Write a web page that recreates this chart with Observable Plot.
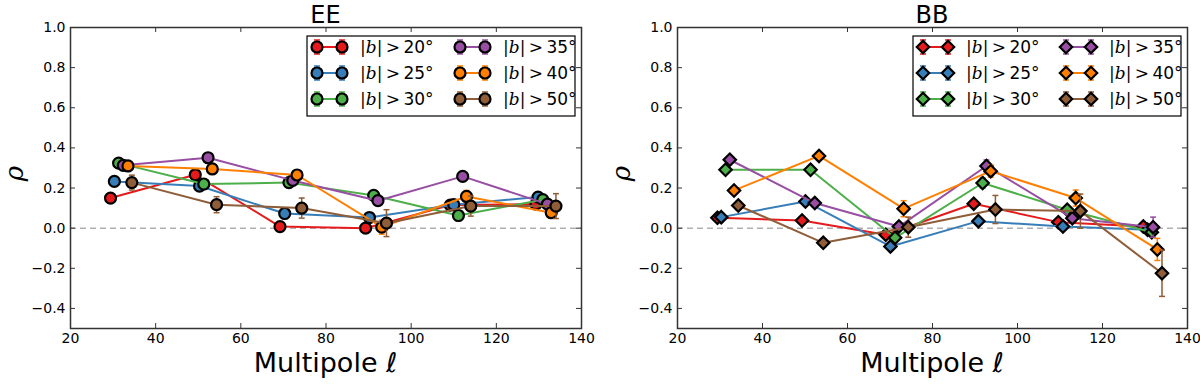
<!DOCTYPE html>
<html><head><meta charset="utf-8">
<script src="https://cdn.jsdelivr.net/npm/d3@7"></script>
<script src="https://cdn.jsdelivr.net/npm/@observablehq/plot@0.6"></script>
<style>
body{margin:0;background:#fff;}
#wrap{display:flex;width:1200px;height:384px;overflow:hidden;}
#wrap svg{display:block;}
</style></head><body><div id="wrap"></div>
<script>
const cuts = ["20", "25", "30", "35", "40", "50"];
const colors = ["#e41a1c", "#377eb8", "#4daf4a", "#984ea3", "#ff7f00", "#8f5d38"];
const xTicks = [20, 40, 60, 80, 100, 120, 140];
const yTicks = [-0.4, -0.2, 0.0, 0.2, 0.4, 0.6, 0.8, 1.0];

// EE panel
const eeEll = [
  [29.4, 49.3, 69.2, 89.3, 109.2, 129.3],
  [30.3, 50.3, 70.3, 90.2, 110.0, 129.8],
  [31.3, 51.3, 71.3, 91.2, 111.1, 130.9],
  [32.4, 52.3, 72.2, 92.2, 112.1, 132.0],
  [33.5, 53.3, 73.2, 93.1, 113.0, 132.9],
  [34.4, 54.3, 74.3, 94.2, 114.0, 134.0]];
const eeRho = [
  [0.150, 0.266, 0.008, 0.000, 0.115, 0.120],
  [0.233, 0.210, 0.073, 0.053, 0.117, 0.155],
  [0.324, 0.220, 0.227, 0.163, 0.063, 0.142],
  [0.313, 0.351, 0.238, 0.137, 0.258, 0.120],
  [0.310, 0.295, 0.265, 0.005, 0.158, 0.077],
  [0.227, 0.117, 0.100, 0.025, 0.110, 0.110]];
const eeErr = [
  [0.012, 0.015, 0.012, 0.012, 0.015, 0.015],
  [0.012, 0.015, 0.015, 0.015, 0.015, 0.015],
  [0.012, 0.015, 0.015, 0.015, 0.025, 0.015],
  [0.012, 0.015, 0.015, 0.015, 0.015, 0.015],
  [0.015, 0.025, 0.025, 0.035, 0.030, 0.025],
  [0.037, 0.040, 0.050, 0.067, 0.050, 0.062]];

// BB panel
const bbEll = [
  [29.4, 49.3, 69.0, 89.7, 109.6, 129.6],
  [30.3, 50.1, 70.1, 90.8, 110.7, 130.6],
  [31.3, 51.3, 71.2, 91.8, 111.7, 131.6],
  [32.3, 52.3, 72.1, 92.7, 112.9, 131.9],
  [33.3, 53.3, 73.2, 93.7, 113.7, 132.9],
  [34.3, 54.3, 74.3, 94.8, 114.8, 134.0]];
const bbRho = [
  [0.052, 0.038, -0.033, 0.122, 0.030, 0.008],
  [0.055, 0.133, -0.091, 0.035, 0.008, -0.008],
  [0.291, 0.291, -0.048, 0.225, 0.092, -0.020],
  [0.341, 0.125, 0.008, 0.310, 0.050, 0.005],
  [0.188, 0.360, 0.097, 0.284, 0.150, -0.106],
  [0.113, -0.073, 0.005, 0.093, 0.085, -0.225]];
const bbErr = [
  [0.012, 0.015, 0.015, 0.015, 0.015, 0.015],
  [0.012, 0.015, 0.015, 0.015, 0.015, 0.015],
  [0.012, 0.015, 0.015, 0.025, 0.015, 0.015],
  [0.012, 0.015, 0.015, 0.030, 0.020, 0.050],
  [0.015, 0.015, 0.040, 0.030, 0.040, 0.055],
  [0.020, 0.020, 0.050, 0.070, 0.085, 0.115]];

const SANS = "'DejaVu Sans', sans-serif";
const SERIF = "'DejaVu Serif', serif";

function makePanel({title, ell, rho, err, symbol, r, ml, mr}) {
  const W = 600, H = 384, mt = 27, mb = 56;
  const fw = W - ml - mr, fh = H - mt - mb;
  const cap = 0.7;
  const marks = [
    Plot.ruleY([0], {stroke: "#b0b0b0", strokeWidth: 1.5, strokeDasharray: "6,4"})
  ];
  for (let s = 0; s < 6; s++) {
    const rows = ell[s].map((l, i) => ({l, r: rho[s][i], e: err[s][i]}));
    const c = colors[s];
    marks.push(
      Plot.line(rows, {x: "l", y: "r", stroke: c, strokeWidth: 2}),
      Plot.ruleX(rows, {x: "l", y1: d => d.r - d.e, y2: d => d.r + d.e, stroke: c, strokeWidth: 1.5}),
      Plot.link(rows, {x1: d => d.l - cap, x2: d => d.l + cap, y1: d => d.r + d.e, y2: d => d.r + d.e, stroke: c, strokeWidth: 1.5}),
      Plot.link(rows, {x1: d => d.l - cap, x2: d => d.l + cap, y1: d => d.r - d.e, y2: d => d.r - d.e, stroke: c, strokeWidth: 1.5}),
      Plot.dot(rows, {x: "l", y: "r", fill: c, stroke: "#000", strokeWidth: 2.2, r, symbol})
    );
  }
  marks.push(
    Plot.tickX(xTicks, {x: d => d, stroke: "#333", strokeWidth: 1, insetTop: fh - 5}),
    Plot.tickX(xTicks, {x: d => d, stroke: "#333", strokeWidth: 1, insetBottom: fh - 5}),
    Plot.tickY(yTicks, {y: d => d, stroke: "#333", strokeWidth: 1, insetRight: fw - 5}),
    Plot.tickY(yTicks, {y: d => d, stroke: "#333", strokeWidth: 1, insetLeft: fw - 5}),
    Plot.frame({stroke: "#333", strokeWidth: 1.5}),
    Plot.axisX({ticks: xTicks, tickSize: 0, tickPadding: 5, fontSize: 14, label: null, tickFormat: d => String(d)}),
    Plot.axisY({ticks: yTicks, tickSize: 0, tickPadding: 5, fontSize: 14, label: null, tickFormat: d3.format(".1f")})
  );
  const svg = Plot.plot({
    width: W, height: H, marginLeft: ml, marginRight: mr, marginTop: mt, marginBottom: mb,
    x: {domain: [20, 140]}, y: {domain: [-0.5, 1.0]},
    style: {fontFamily: SANS, fontSize: "14px", color: "#000", background: "#fff", overflow: "visible"},
    marks
  });
  const g = d3.select(svg);
  g.append("text").attr("x", ml + fw / 2).attr("y", 23).attr("text-anchor", "middle")
    .attr("font-family", SANS).attr("font-size", 24).attr("fill", "#000").text(title);
  const xl = g.append("text").attr("x", ml + fw / 2).attr("y", 372).attr("text-anchor", "middle")
    .attr("font-family", SANS).attr("font-size", 27).attr("fill", "#000");
  xl.append("tspan").text("Multipole ");
  xl.append("tspan").attr("font-style", "italic").text("ℓ");
  g.append("text").attr("transform", `translate(${ml - 47},${mt + fh / 2 - 4}) rotate(-90)`)
    .attr("text-anchor", "middle").attr("font-family", SERIF).attr("font-style", "italic")
    .attr("font-size", 26).attr("fill", "#000").text("ρ");

  // legend
  const LW = 268, LH = 80;
  const lx = ml + fw - 6 - LW, ly = mt + 9;
  const lg = g.append("g").attr("text-anchor", "start");
  lg.append("rect").attr("x", lx).attr("y", ly).attr("width", LW).attr("height", LH)
    .attr("fill", "#fff").attr("stroke", "#000").attr("stroke-width", 1.2);
  const sym = d3.symbol(symbol === "circle" ? d3.symbolCircle : d3.symbolDiamond2, r * r * Math.PI);
  for (let s = 0; s < 6; s++) {
    const col = Math.floor(s / 3), row = s % 3;
    const cy = ly + 11 + row * 26;
    const x0 = lx + (col ? 153 : 10), x1 = x0 + 25;
    const tx = lx + (col ? 196 : 53);
    const c = colors[s];
    lg.append("line").attr("x1", x0).attr("x2", x1).attr("y1", cy).attr("y2", cy)
      .attr("stroke", c).attr("stroke-width", 2);
    for (const x of [x0, x1]) {
      lg.append("line").attr("x1", x).attr("x2", x).attr("y1", cy - 7).attr("y2", cy + 7).attr("stroke", c).attr("stroke-width", 1.5);
      lg.append("line").attr("x1", x - 3).attr("x2", x + 3).attr("y1", cy - 7).attr("y2", cy - 7).attr("stroke", c).attr("stroke-width", 1.5);
      lg.append("line").attr("x1", x - 3).attr("x2", x + 3).attr("y1", cy + 7).attr("y2", cy + 7).attr("stroke", c).attr("stroke-width", 1.5);
      lg.append("path").attr("d", sym()).attr("transform", `translate(${x},${cy})`)
        .attr("fill", c).attr("stroke", "#000").attr("stroke-width", 2.2);
    }
    const t = lg.append("text").attr("x", tx).attr("y", cy + 6).attr("font-size", 17).attr("fill", "#000")
      .attr("text-anchor", "start").attr("font-family", SERIF);
    t.append("tspan").text("|");
    t.append("tspan").attr("font-style", "italic").text("b");
    t.append("tspan").text("|\u2009>\u2009");
    t.append("tspan").attr("font-family", SANS).text(cuts[s] + "°");
  }
  return svg;
}

const wrap = document.getElementById("wrap");
wrap.appendChild(makePanel({title: "EE", ell: eeEll, rho: eeRho, err: eeErr, symbol: "circle", r: 5.5, ml: 70, mr: 19}));
wrap.appendChild(makePanel({title: "BB", ell: bbEll, rho: bbRho, err: bbErr, symbol: "diamond2", r: 5.6, ml: 77, mr: 13}));
</script></body></html>
